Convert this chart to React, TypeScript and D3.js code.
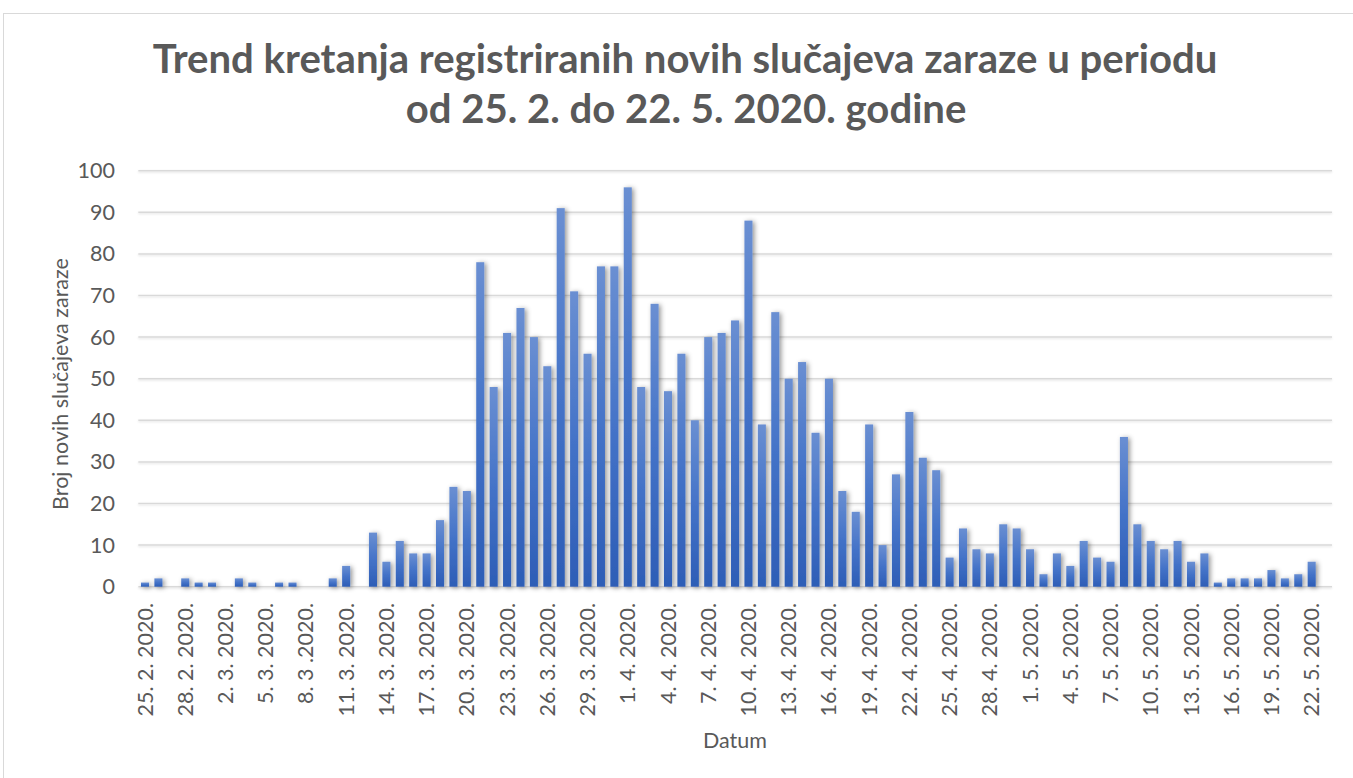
import React, { useEffect, useRef } from "react";
import * as d3 from "d3";

// novi slučajevi po danu, 25. 2. - 22. 5. 2020.
const values = [
  1, 2, 0, 2, 1, 1, 0, 2, 1, 0, 1, 1, 0, 0, 2, 5, 0, 13, 6, 11, 8, 8, 16, 24, 23,
  78, 48, 61, 67, 60, 53, 91, 71, 56, 77, 77, 96, 48, 68, 47, 56, 40, 60, 61, 64,
  88, 39, 66, 50, 54, 37, 50, 23, 18, 39, 10, 27, 42, 31, 28, 7, 14, 9, 8, 15, 14,
  9, 3, 8, 5, 11, 7, 6, 36, 15, 11, 9, 11, 6, 8, 1, 2, 2, 2, 4, 2, 3, 6,
];

// labels shown on every third day
const tickLabels = [
  "25. 2. 2020.", "28. 2. 2020.", "2. 3. 2020.", "5. 3. 2020.", "8. 3 .2020.",
  "11. 3. 2020.", "14. 3. 2020.", "17. 3. 2020.", "20. 3. 2020.", "23. 3. 2020.",
  "26. 3. 2020.", "29. 3. 2020.", "1. 4. 2020.", "4. 4. 2020.", "7. 4. 2020.",
  "10. 4. 2020.", "13. 4. 2020.", "16. 4. 2020.", "19. 4. 2020.", "22. 4. 2020.",
  "25. 4. 2020.", "28. 4. 2020.", "1. 5. 2020.", "4. 5. 2020.", "7. 5. 2020.",
  "10. 5. 2020.", "13. 5. 2020.", "16. 5. 2020.", "19. 5. 2020.", "22. 5. 2020.",
];

const yTicks = [0, 10, 20, 30, 40, 50, 60, 70, 80, 90, 100];

const titleLines = [
  "Trend kretanja registriranih novih slučajeva zaraze u periodu",
  "od 25. 2. do 22. 5. 2020. godine",
];

const FONT = "Lato, 'Open Sans', sans-serif";
const TEXT = "#595959";
const AXIS_FS = 21.5;

export default function App() {
  const svgRef = useRef<SVGSVGElement>(null);

  useEffect(() => {
    const svg = d3.select(svgRef.current);
    svg.selectAll("*").remove();

    const days = d3.timeDay.range(new Date(2020, 1, 25), new Date(2020, 4, 23));
    const keys = days.map((_, i) => String(i));

    const left = 138.3;
    const right = 1332;
    const step = 13.41;

    const x = d3
      .scaleBand()
      .domain(keys)
      .range([left, left + step * keys.length])
      .paddingInner(0.4)
      .paddingOuter(0.2);

    const y = d3.scaleLinear().domain([0, 100]).range([586.7, 170.7]);

    // defs: bar gradient + shadows
    const defs = svg.append("defs");
    const grad = defs
      .append("linearGradient")
      .attr("id", "barGrad")
      .attr("x1", 0)
      .attr("y1", 0)
      .attr("x2", 0)
      .attr("y2", 1);
    grad.append("stop").attr("offset", "0%").attr("stop-color", "#6a8fd2");
    grad.append("stop").attr("offset", "50%").attr("stop-color", "#4473c8");
    grad.append("stop").attr("offset", "100%").attr("stop-color", "#2d5db6");

    const sh = defs
      .append("filter")
      .attr("id", "barShadow")
      .attr("x", "-100%")
      .attr("y", "-10%")
      .attr("width", "300%")
      .attr("height", "120%");
    sh.append("feDropShadow")
      .attr("dx", 2)
      .attr("dy", 1)
      .attr("stdDeviation", 2.5)
      .attr("flood-color", "#000")
      .attr("flood-opacity", 0.42);

    const gsh = defs
      .append("filter")
      .attr("id", "gridShadow")
      .attr("x", "-5%")
      .attr("y", "-300%")
      .attr("width", "110%")
      .attr("height", "700%");
    gsh
      .append("feDropShadow")
      .attr("dx", 0)
      .attr("dy", 1)
      .attr("stdDeviation", 0.8)
      .attr("flood-color", "#000")
      .attr("flood-opacity", 0.12);

    // chart frame
    svg
      .append("rect")
      .attr("x", 3.5)
      .attr("y", 13.5)
      .attr("width", 1400)
      .attr("height", 800)
      .attr("fill", "#fff")
      .attr("stroke", "#d9d9d9");

    // title, scaled to the reference width
    const title = svg
      .append("g")
      .attr("font-family", FONT)
      .attr("font-weight", 700)
      .attr("fill", TEXT)
      .attr("text-anchor", "middle");
    const t1 = title
      .append("text")
      .attr("x", 685)
      .attr("y", 73)
      .attr("font-size", 36)
      .text(titleLines[0]);
    const w = (t1.node() as SVGTextElement).getComputedTextLength() || 1065;
    const fs = (36 * 1065) / w;
    t1.attr("font-size", fs);
    title
      .append("text")
      .attr("x", 686)
      .attr("y", 123)
      .attr("font-size", fs)
      .text(titleLines[1]);

    // gridlines
    svg
      .append("g")
      .attr("filter", "url(#gridShadow)")
      .selectAll("line")
      .data(yTicks)
      .enter()
      .append("line")
      .attr("x1", left)
      .attr("x2", right)
      .attr("y1", (d) => y(d))
      .attr("y2", (d) => y(d))
      .attr("stroke", "#d9d9d9")
      .attr("stroke-width", 1.5);

    // y tick labels
    svg
      .append("g")
      .attr("font-family", FONT)
      .attr("font-size", AXIS_FS)
      .attr("fill", TEXT)
      .attr("text-anchor", "end")
      .selectAll("text")
      .data(yTicks)
      .enter()
      .append("text")
      .attr("x", 115)
      .attr("y", (d) => y(d))
      .attr("dy", "0.35em")
      .text((d) => d);

    // bars
    svg
      .append("g")
      .attr("filter", "url(#barShadow)")
      .selectAll("rect")
      .data(values)
      .enter()
      .append("rect")
      .attr("x", (_, i) => x(String(i)) as number)
      .attr("y", (d) => y(d))
      .attr("width", x.bandwidth())
      .attr("height", (d) => y(0) - y(d))
      .attr("fill", "url(#barGrad)");

    // x labels, rotated
    svg
      .append("g")
      .attr("font-family", FONT)
      .attr("font-size", AXIS_FS)
      .attr("fill", TEXT)
      .attr("text-anchor", "end")
      .selectAll("text")
      .data(tickLabels)
      .enter()
      .append("text")
      .attr("transform", (_, k) => {
        const cx = (x(String(k * 3)) as number) + x.bandwidth() / 2;
        return `translate(${cx},603) rotate(-90)`;
      })
      .attr("dy", "0.35em")
      .text((d) => d);

    // axis titles
    svg
      .append("text")
      .attr("transform", "translate(60,384) rotate(-90)")
      .attr("text-anchor", "middle")
      .attr("dy", "0.35em")
      .attr("font-family", FONT)
      .attr("font-size", AXIS_FS)
      .attr("fill", TEXT)
      .text("Broj novih slučajeva zaraze");

    svg
      .append("text")
      .attr("x", 735)
      .attr("y", 748)
      .attr("text-anchor", "middle")
      .attr("font-family", FONT)
      .attr("font-size", AXIS_FS)
      .attr("fill", TEXT)
      .text("Datum");
  }, []);

  return (
    <svg
      ref={svgRef}
      width={1353}
      height={778}
      style={{ position: "absolute", left: 0, top: 0, background: "#fff" }}
    />
  );
}
